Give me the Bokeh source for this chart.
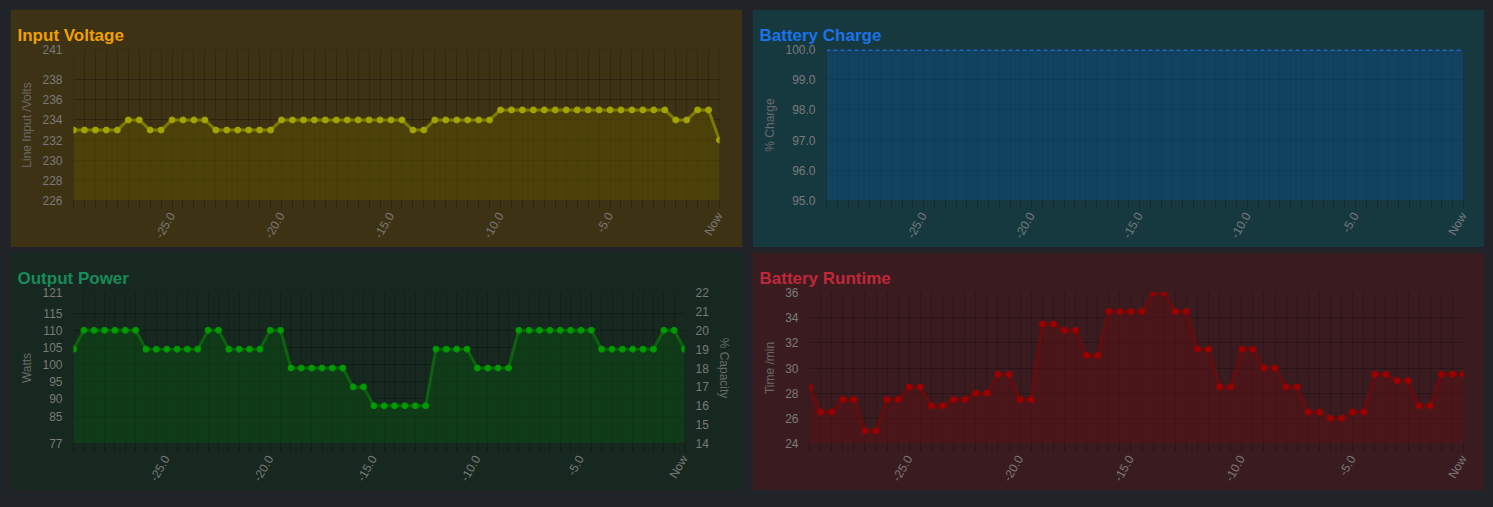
from bokeh.plotting import figure
from bokeh.layouts import column, row
from bokeh.models import FixedTicker, LinearAxis, Range1d
from bokeh.embed import file_html
from bokeh.resources import INLINE

minutes = [-29.5 + 0.5 * i for i in range(60)]
x_ticks = [-25, -20, -15, -10, -5, 0]
x_labels = {-25: "-25.0", -20: "-20.0", -15: "-15.0", -10: "-10.0", -5: "-5.0", 0: "Now"}

voltage = [233]*5 + [234]*2 + [233]*2 + [234]*4 + [233]*6 + [234]*12 + [233]*2 + [234]*6 + [235]*16 + [234]*2 + [235]*2 + [232]
voltage_ticks = [226, 228, 230, 232, 234, 236, 238, 241]

charge = [100.0]*60
charge_ticks = [95.0, 96.0, 97.0, 98.0, 99.0, 100.0]

capacity = [19] + [20]*6 + [19]*6 + [20]*2 + [19]*4 + [20]*2 + [18]*6 + [17]*2 + [16]*6 + [19]*4 + [18]*4 + [20]*8 + [19]*6 + [20]*2 + [19]
watts_ticks = [77, 85, 90, 95, 100, 105, 110, 115, 121]
capacity_ticks = [14, 15, 16, 17, 18, 19, 20, 21, 22]

runtime = [28.5, 26.5, 26.5, 27.5, 27.5, 25, 25, 27.5, 27.5, 28.5, 28.5, 27, 27, 27.5, 27.5, 28, 28, 29.5, 29.5,
           27.5, 27.5, 33.5, 33.5, 33, 33, 31, 31, 34.5, 34.5, 34.5, 34.5, 36, 36, 34.5, 34.5, 31.5, 31.5, 28.5, 28.5,
           31.5, 31.5, 30, 30, 28.5, 28.5, 26.5, 26.5, 26, 26, 26.5, 26.5, 29.5, 29.5, 29, 29, 27, 27, 29.5, 29.5, 29.5]
runtime_ticks = [24, 26, 28, 30, 32, 34, 36]


def make(title, tcolor, bg, yr, yticks, ylabel, left, right, fmt=None):
    p = figure(width=732, height=238, output_backend="svg", toolbar_location=None,
               x_range=Range1d(-29.5, 0), y_range=Range1d(*yr),
               min_border_left=left, min_border_right=right, min_border_top=40, min_border_bottom=44)
    p.title.text = title
    p.title.text_color = tcolor
    p.title.text_font = "Liberation Sans"
    p.title.text_font_size = "17px"
    p.title.text_font_style = "bold"
    p.title.offset = 7 - left
    p.background_fill_color = bg
    p.border_fill_color = bg
    p.outline_line_color = None
    for ax in (p.xaxis[0], p.yaxis[0]):
        ax.axis_line_color = None
        ax.major_label_text_color = "#7a7a7a"
        ax.major_label_text_font = "Liberation Sans"
        ax.major_label_text_font_size = "12px"
        ax.major_tick_line_color = None
        ax.minor_tick_line_color = None
    p.xaxis.ticker = FixedTicker(ticks=x_ticks, minor_ticks=minutes)
    p.xaxis.major_label_overrides = x_labels
    p.xaxis.major_label_orientation = 1.05
    p.xaxis.minor_tick_line_color = "#000000"
    p.xaxis.minor_tick_line_alpha = 0.25
    p.xaxis.minor_tick_out = 8
    p.xaxis.minor_tick_in = 0
    p.yaxis.ticker = FixedTicker(ticks=yticks)
    if fmt:
        p.yaxis.major_label_overrides = {t: fmt % t for t in yticks}
    p.yaxis.axis_label = ylabel
    p.yaxis.axis_label_text_color = "#6a6a6a"
    p.yaxis.axis_label_text_font = "Liberation Sans"
    p.yaxis.axis_label_text_font_size = "12px"
    p.yaxis.axis_label_text_font_style = "normal"
    p.xgrid.ticker = FixedTicker(ticks=minutes)
    p.xgrid.grid_line_color = "#000000"
    p.xgrid.grid_line_alpha = 0.18
    p.ygrid.grid_line_color = "#000000"
    p.ygrid.grid_line_alpha = 0.25
    return p


def series(p, y, base, fill, line, marker, y_range_name="default", dash="solid", markers=True):
    p.varea(x=minutes, y1=[base]*len(y), y2=y, fill_color=fill, fill_alpha=0.55, y_range_name=y_range_name)
    p.line(minutes, y, line_color=line, line_width=3, line_alpha=0.8, line_dash=dash, y_range_name=y_range_name)
    if markers:
        p.scatter(minutes, y, size=6, fill_color=marker, line_color=marker, y_range_name=y_range_name)


p1 = make("Input Voltage", "#f0a000", "#3d3214", (226, 241), voltage_ticks, "Line Input /Volts", 63, 23)
series(p1, voltage, 226, "#5a5000", "#8a8a00", "#a3a300")

p2 = make("Battery Charge", "#1a73e8", "#163940", (95, 100), charge_ticks, "% Charge", 74, 21, "%.1f")
series(p2, charge, 95, "#0e4a78", "#2a6fd8", "#2a6fd8", dash="4 3", markers=False)

p3 = make("Output Power", "#1a8a5a", "#16281f", (77, 121), watts_ticks, "Watts", 63, 58)
p3.extra_y_ranges = {"cap": Range1d(14, 22)}
ax = LinearAxis(y_range_name="cap", ticker=FixedTicker(ticks=capacity_ticks), axis_label="% Capacity")
ax.axis_line_color = None
ax.major_tick_line_color = None
ax.minor_tick_line_color = None
ax.major_label_text_color = "#7a7a7a"
ax.major_label_text_font = "Liberation Sans"
ax.major_label_text_font_size = "12px"
ax.axis_label_text_color = "#6a6a6a"
ax.axis_label_text_font = "Liberation Sans"
ax.axis_label_text_font_size = "12px"
ax.axis_label_text_font_style = "normal"
p3.add_layout(ax, "right")
series(p3, capacity, 14, "#0d4a14", "#0a6e0a", "#009a00", y_range_name="cap")

p4 = make("Battery Runtime", "#c0283a", "#3a1c20", (24, 36), runtime_ticks, "Time /min", 57, 21)
series(p4, runtime, 24, "#5a1216", "#6e0a0a", "#9a0000")

layout = column(row(p1, p2, spacing=10), row(p3, p4, spacing=10), spacing=5,
                styles={"padding": "9px 10px", "background": "#202327"})

html = file_html(layout, INLINE)
html = html.replace("<body>", '<body style="background:#202327">')
open("out.html", "w").write(html)
